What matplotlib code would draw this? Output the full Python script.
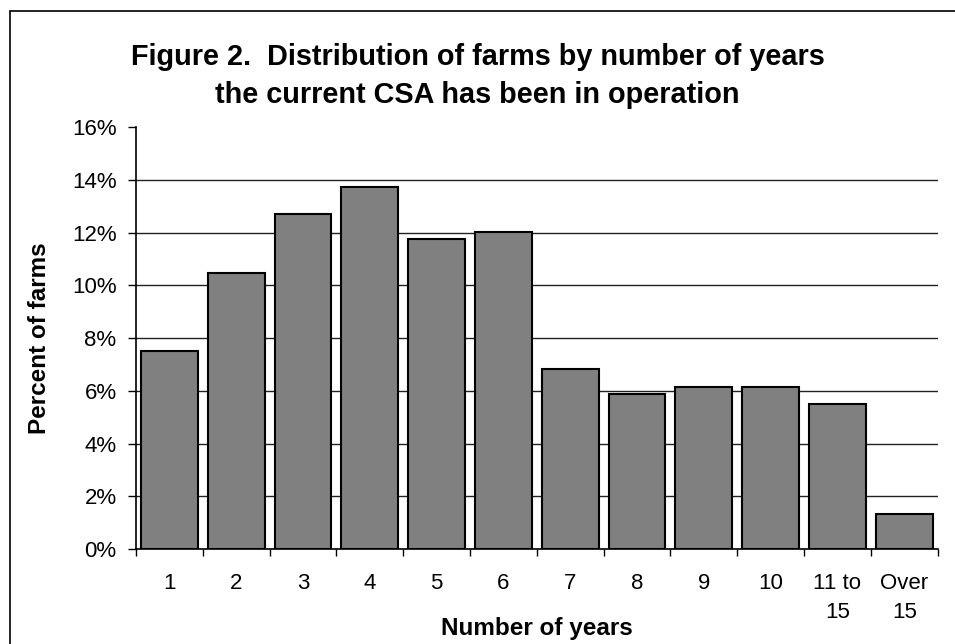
import matplotlib.pyplot as plt
from matplotlib.patches import Rectangle
from matplotlib.ticker import FixedLocator, PercentFormatter

plt.rcParams['font.family'] = ['Liberation Sans', 'DejaVu Sans']

years = ['1', '2', '3', '4', '5', '6', '7', '8', '9', '10', '11 to\n15', 'Over\n15']
pct_farms = [7.49, 10.46, 12.71, 13.73, 11.76, 12.03, 6.83, 5.88, 6.16, 6.16, 5.51, 1.33]
y_ticks = [0, 2, 4, 6, 8, 10, 12, 14, 16]

fig = plt.figure(figsize=(9.55, 6.44), dpi=100)
ax = fig.add_axes([0.1424, 0.1475, 0.8395, 0.6553])

x = range(len(years))
ax.bar(x, pct_farms, width=0.85, color='#808080', edgecolor='black',
       linewidth=1.5, zorder=3)

ax.set_xlim(-0.5, len(years) - 0.5)
ax.set_ylim(0, 16)

# y axis: percent ticks, gridlines everywhere except the top
ax.yaxis.set_major_locator(FixedLocator(y_ticks))
ax.yaxis.set_major_formatter(PercentFormatter(decimals=0))
for v in y_ticks[1:-1]:
    ax.axhline(v, color='#222222', linewidth=1.0, zorder=1)

# x axis: ticks at category boundaries, labels at centres
ax.set_xticks([i - 0.5 for i in range(len(years) + 1)])
ax.set_xticklabels([])
ax.set_xticks(list(x), minor=True)
ax.set_xticklabels(years, minor=True, fontsize=16, linespacing=1.5)
ax.tick_params(axis='x', which='major', length=5, width=1, direction='out')
ax.tick_params(axis='x', which='minor', length=0, pad=17)
ax.tick_params(axis='y', length=6, width=1, pad=8, labelsize=16)

ax.spines['top'].set_visible(False)
ax.spines['right'].set_visible(False)
ax.spines['left'].set_linewidth(1.2)
ax.spines['bottom'].set_linewidth(1.2)

ax.set_ylabel('Percent of farms', fontsize=17.5, fontweight='bold')
ax.yaxis.set_label_coords(-0.106, 0.5)
ax.set_xlabel('Number of years', fontsize=17.5, fontweight='bold')
ax.xaxis.set_label_coords(0.5, -0.16)

fig.text(0.5, 1 - 57 / 644, 'Figure 2.  Distribution of farms by number of years',
         ha='center', va='center', fontsize=20.8, fontweight='bold')
fig.text(0.5, 1 - 95 / 644, 'the current CSA has been in operation',
         ha='center', va='center', fontsize=20.8, fontweight='bold')

# outer frame around the chart area
fig.patches.append(Rectangle((10 / 955, -0.1), 1.2, 0.1 + 1 - 11 / 644,
                             transform=fig.transFigure, fill=False,
                             edgecolor='black', linewidth=1.2))

fig.savefig('out.png', dpi=100)
